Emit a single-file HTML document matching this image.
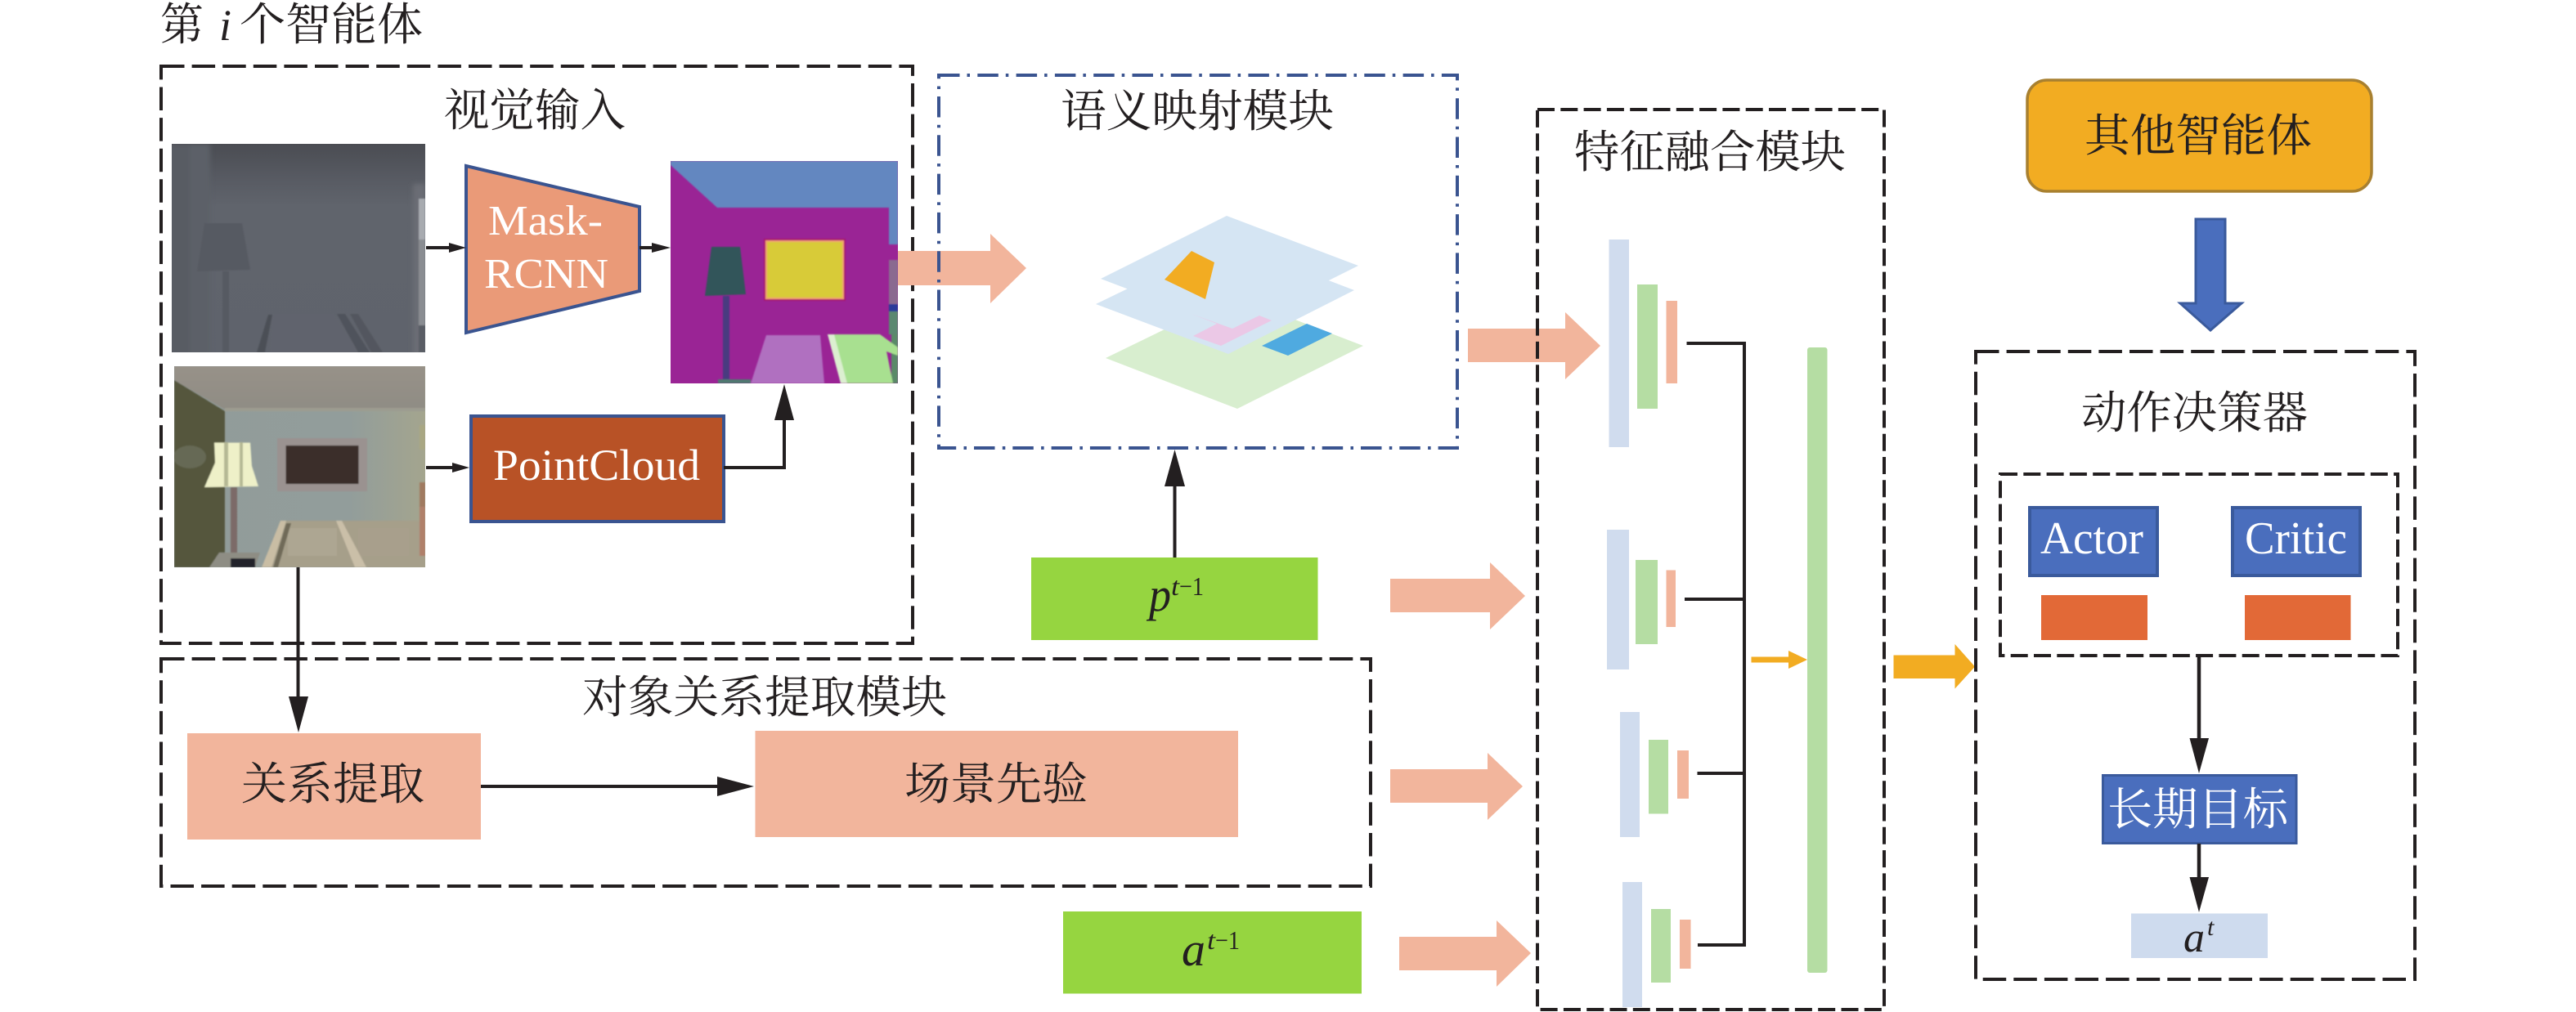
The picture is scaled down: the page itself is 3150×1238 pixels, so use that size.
<!DOCTYPE html>
<html><head><meta charset="utf-8"><style>
html,body{margin:0;padding:0;background:#fff}
svg{display:block}
text{font-family:"Liberation Serif","Noto Serif CJK SC",serif;fill:#231f20}
.c{font-family:"Noto Serif CJK SC","Liberation Serif",serif;font-size:55px}
.d{fill:none;stroke:#231f20;stroke-width:4;stroke-dasharray:28.5 9.1}
.f{fill:none;stroke:#231f20;stroke-width:4;stroke-dasharray:21 7.3}
.l{fill:none;stroke:#231f20;stroke-width:4}
.k{fill:#231f20}
.s{fill:#f2b59c}
.b1{fill:#d0dcee}.g1{fill:#b5dda3}
</style></head><body>
<svg xmlns="http://www.w3.org/2000/svg" width="3150" height="1238" viewBox="0 0 3150 1238">
<defs>
<filter id="bl" x="-5%" y="-5%" width="110%" height="110%"><feGaussianBlur stdDeviation="3"/></filter>
<filter id="bs" x="-5%" y="-5%" width="110%" height="110%"><feGaussianBlur stdDeviation="0.8"/></filter>
<linearGradient id="dg" x1="0" y1="0" x2="0" y2="1"><stop offset="0" stop-color="#4a4c52"/><stop offset=".16" stop-color="#575a62"/><stop offset=".3" stop-color="#60646c"/><stop offset="1" stop-color="#5f636c"/></linearGradient>
<linearGradient id="cg" x1="0" y1="0" x2="0" y2="1"><stop offset="0" stop-color="#979188"/><stop offset="1" stop-color="#8f8c84"/></linearGradient>
<linearGradient id="wg" x1="0" y1="0" x2="1" y2="0"><stop offset="0" stop-color="#919c9a"/><stop offset=".7" stop-color="#929d9b"/><stop offset="1" stop-color="#a4a58e"/></linearGradient>
<clipPath id="c1"><rect x="210" y="176" width="310" height="255"/></clipPath>
<clipPath id="c2"><rect x="213" y="448" width="307" height="246"/></clipPath>
<clipPath id="c3"><rect x="820" y="197" width="278" height="272"/></clipPath>
</defs>
<rect width="3150" height="1238" fill="#fff"/>

<text class="c" x="196" y="49" textLength="53" lengthAdjust="spacingAndGlyphs">第</text>
<text x="268" y="49" font-size="54" font-style="italic">i</text>
<text class="c" x="293" y="49" textLength="224" lengthAdjust="spacingAndGlyphs">个智能体</text>

<rect class="d" x="197" y="81" width="919" height="706"/>
<text class="c" x="543" y="154" textLength="222" lengthAdjust="spacingAndGlyphs">视觉输入</text>

<!-- depth image -->
<g clip-path="url(#c1)">
<rect x="210" y="176" width="310" height="255" fill="url(#dg)"/>
<g filter="url(#bl)">
<rect x="205" y="176" width="30" height="260" fill="#585c64"/>
<rect x="232" y="176" width="25" height="260" fill="#5c6068"/>
<rect x="505" y="225" width="15" height="210" fill="#6a6d75"/>
</g>
<g filter="url(#bs)">
<polygon points="250,273 296,273 306,330 241,332" fill="#565a62"/>
<rect x="272" y="332" width="8" height="99" fill="#565a62"/>
<polygon points="330,431 333,384 408,384 440,431" fill="#60646d"/>
<polygon points="314,431 328,385 333,385 324,431" fill="#4c4f57"/>
<polygon points="412,384 422,384 452,431 438,431" fill="#50535b"/>
<polygon points="428,384 438,384 468,431 454,431" fill="#53565e"/>
<rect x="512" y="243" width="8" height="50" fill="#a8abb0"/>
<rect x="512" y="293" width="8" height="105" fill="#8a8d92"/>
<rect x="512" y="398" width="8" height="33" fill="#5a5d65"/>
</g>
</g>

<!-- rgb image -->
<g clip-path="url(#c2)">
<rect x="213" y="448" width="307" height="246" fill="url(#wg)"/>
<g filter="url(#bs)">
<polygon points="213,448 520,448 520,499 275,501 213,465" fill="url(#cg)"/>
<rect x="275" y="499" width="245" height="4" fill="#9c9c90"/>
<polygon points="213,465 275,503 275,694 213,694" fill="#54563e"/>
<ellipse cx="232" cy="559" rx="20" ry="14" fill="#666954"/>
<rect x="339" y="536" width="110" height="65" fill="#9a9290"/>
<rect x="349.5" y="545" width="89" height="47" fill="#3a2e2a"/>
<polygon points="262,541.5 306,541.5 308,570 316,595 250,596 263,566" fill="#eef0c8"/>
<rect x="274" y="541" width="5" height="54" fill="#b5b894"/>
<rect x="293" y="541" width="4" height="54" fill="#b5b894"/>
<rect x="282" y="596" width="8" height="88" fill="#7c6b68"/>
<polygon points="320,694 343,637 512,637 520,650 520,694" fill="#a69f8a"/>
<rect x="352" y="646" width="60" height="34" fill="#ada692"/>
<rect x="438" y="646" width="62" height="34" fill="#a89f8c"/>
<polygon points="320,694 343,637 350,637 332,694" fill="#c9bda4"/>
<polygon points="411,637 418,637 448,694 434,694" fill="#cabfa8"/>
<polygon points="350,640 356,640 340,694 334,694" fill="#6f6a58"/>
<rect x="513" y="590" width="7" height="45" fill="#a07a60"/>
<rect x="513" y="620" width="7" height="60" fill="#b0806a"/>
<rect x="513" y="520" width="7" height="30" fill="#a9a783"/>
<polygon points="256,694 268,676 318,676 312,694" fill="#8e8d84"/>
<rect x="282" y="683" width="30" height="11" fill="#20222a"/>
</g>
</g>

<!-- segmentation -->
<g clip-path="url(#c3)">
<rect x="820" y="197" width="278" height="272" fill="#9a2495"/>
<g filter="url(#bs)">
<polygon points="820,197 1098,197 1098,299 1087,299 1087,254 877,254 820,202" fill="#6487c0"/>
<rect x="1087" y="318" width="11" height="54" fill="#8a6a90"/>
<rect x="1087" y="372" width="11" height="9" fill="#2a3a9a"/>
<rect x="1087" y="381" width="11" height="28" fill="#5a8870"/>
<rect x="1090" y="409" width="8" height="60" fill="#5a8a68"/>
<rect x="934" y="292" width="100" height="76" fill="#a81870"/>
<rect x="936" y="294" width="96" height="72" fill="#f2a070"/>
<rect x="938" y="296" width="92" height="68" fill="#d8cb38"/>
<polygon points="870,302 905,302 912,360 862,362" fill="#33555a"/>
<rect x="884" y="362" width="8" height="105" fill="#4a3a80"/>
<rect x="878" y="464" width="40" height="5" fill="#4f7a70"/>
<polygon points="937,410 1003,410 1008,469 918,469" fill="#b070c0"/>
<polygon points="1012,409 1076,409 1098,425 1098,435 1084,430 1092,469 1030,469" fill="#a8e090"/>
<polygon points="1012,409 1020,409 1036,469 1028,469" fill="#dcefd0"/>
</g>
</g>

<!-- trapezoid -->
<polygon points="570,203 782,253 782,356 570,407" fill="#ea9a78" stroke="#3a5490" stroke-width="4"/>
<text x="597" y="287" font-size="52" textLength="140" lengthAdjust="spacingAndGlyphs" style="fill:#fff">Mask-</text>
<text x="592" y="352" font-size="52" textLength="152" lengthAdjust="spacingAndGlyphs" style="fill:#fff">RCNN</text>

<!-- point cloud -->
<rect x="576" y="509" width="309" height="129" fill="#b85226" stroke="#3a5490" stroke-width="4"/>
<text x="603" y="587" font-size="54" textLength="253" lengthAdjust="spacingAndGlyphs" style="fill:#fff">PointCloud</text>

<!-- small arrows -->
<line class="l" x1="521" y1="303" x2="552" y2="303"/><polygon class="k" points="549,297 570,303 549,309"/>
<line class="l" x1="782" y1="303" x2="800" y2="303"/><polygon class="k" points="797,297 820,303 797,309"/>
<line class="l" x1="521" y1="572" x2="556" y2="572"/><polygon class="k" points="553,566 574,572 553,578"/>
<polyline class="l" points="885,572 959,572 959,510"/><polygon class="k" points="947,514 959,470 971,514"/>
<line class="l" x1="364.5" y1="694" x2="364.5" y2="856"/><polygon class="k" points="353,852 365,896 377,852"/>

<!-- object relation -->
<rect class="d" x="197" y="806" width="1479" height="278"/>
<text class="c" x="712" y="872" textLength="446" lengthAdjust="spacingAndGlyphs">对象关系提取模块</text>
<rect class="s" x="229" y="897" width="359" height="130"/>
<rect class="s" x="923.5" y="894" width="590.5" height="130"/>
<text class="c" x="295" y="978" textLength="224" lengthAdjust="spacingAndGlyphs">关系提取</text>
<text class="c" x="1106" y="978" textLength="224" lengthAdjust="spacingAndGlyphs">场景先验</text>
<line class="l" x1="588" y1="962" x2="880" y2="962"/><polygon class="k" points="877,950 922,962 877,974"/>

<!-- salmon arrow into semantic -->
<polygon class="s" points="1098,307 1211,307 1211,286 1255,328 1211,371 1211,349 1098,349"/>

<!-- semantic -->
<rect x="1148" y="92" width="634" height="456" fill="none" stroke="#3a5490" stroke-width="4" stroke-dasharray="25.5 9 3.5 9.3"/>
<text class="c" x="1297" y="155" textLength="334" lengthAdjust="spacingAndGlyphs">语义映射模块</text>
<polygon points="1352,438 1508,362 1667,423 1513,500" fill="#d8eecf"/>
<polygon points="1340,372 1499,295 1656,355 1502,433" fill="#d5e5f3"/>
<polygon points="1346,341 1500,264 1661,325 1507,402" fill="#d5e5f3"/>
<polygon points="1457,307 1485,321 1474,366 1424,342" fill="#f2ac22"/>
<polygon points="1457,384 1507,402 1540,386 1555,392 1493,423 1459,411 1488,396" fill="#ebc8e6"/>
<polygon points="1598,396 1629,408 1575,435 1543,423" fill="#4faae0"/>

<!-- p -->
<line class="l" x1="1436.5" y1="590" x2="1436.5" y2="682"/><polygon class="k" points="1424,595 1436.5,550 1449,595"/>
<rect x="1261" y="682" width="350.5" height="101" fill="#96d540"/>
<text x="1405" y="747" font-size="58" font-style="italic" textLength="27" lengthAdjust="spacingAndGlyphs">p</text>
<text x="1432" y="728" font-size="32" font-style="italic" textLength="10" lengthAdjust="spacingAndGlyphs">t</text>
<text x="1442" y="728" font-size="32" textLength="30" lengthAdjust="spacingAndGlyphs">−1</text>
<rect x="1300" y="1115" width="365" height="100.5" fill="#96d540"/>
<text x="1445" y="1181" font-size="58" font-style="italic" textLength="29" lengthAdjust="spacingAndGlyphs">a</text>
<text x="1476" y="1161" font-size="32" font-style="italic" textLength="10" lengthAdjust="spacingAndGlyphs">t</text>
<text x="1486" y="1161" font-size="32" textLength="30" lengthAdjust="spacingAndGlyphs">−1</text>

<!-- feature -->
<polygon class="s" points="1795,402 1914,402 1914,382 1957,423 1914,464 1914,443 1795,443"/>
<rect class="f" x="1880" y="134" width="424" height="1101"/>
<text class="c" x="1925" y="205" textLength="332" lengthAdjust="spacingAndGlyphs">特征融合模块</text>
<polygon class="s" points="1700,708 1822,708 1822,688 1865,729 1822,770 1822,749 1700,749"/>
<polygon class="s" points="1700,941 1819,941 1819,921 1862,962 1819,1003 1819,982 1700,982"/>
<polygon class="s" points="1711,1146 1830,1146 1830,1126 1872,1166 1830,1207 1830,1187 1711,1187"/>

<rect class="b1" x="1967.5" y="293" width="24.5" height="254"/><rect class="g1" x="2002" y="348" width="25" height="152"/><rect class="s" x="2037.5" y="368" width="13.5" height="101"/>
<rect class="b1" x="1965" y="648" width="27" height="171"/><rect class="g1" x="2000" y="685" width="27" height="103"/><rect class="s" x="2037.5" y="697.5" width="11.5" height="69.5"/>
<rect class="b1" x="1981" y="871" width="24" height="153"/><rect class="g1" x="2016" y="905" width="24" height="90.5"/><rect class="s" x="2051" y="918" width="14" height="59"/>
<rect class="b1" x="1984" y="1079" width="24" height="153"/><rect class="g1" x="2019" y="1112" width="24" height="90"/><rect class="s" x="2054" y="1125" width="13.5" height="60"/>

<polyline class="l" points="2062.5,420 2133,420 2133,1156 2076,1156"/>
<line class="l" x1="2060" y1="733" x2="2133" y2="733"/>
<line class="l" x1="2075.5" y1="946" x2="2133" y2="946"/>
<polygon points="2141.5,803.5 2187,803.5 2187,796 2210,807 2187,818 2187,810.5 2141.5,810.5" fill="#f2ac22"/>
<rect class="g1" x="2210" y="425" width="24.5" height="765" rx="3"/>

<polygon points="2315.5,801.5 2390.5,801.5 2390.5,788 2415,815.5 2390.5,842.5 2390.5,830 2315.5,830" fill="#f2ac22"/>

<!-- other agents -->
<rect x="2479" y="98" width="421" height="136" rx="24" fill="#f2ac22" stroke="#a88030" stroke-width="3.5"/>
<text class="c" x="2549" y="185" textLength="278" lengthAdjust="spacingAndGlyphs">其他智能体</text>
<polygon points="2685,268 2721,268 2721,371 2741,371 2703,404 2666,371 2685,371" fill="#4a6ebd" stroke="#3a5a9c" stroke-width="3"/>

<!-- decision -->
<rect class="d" x="2416" y="430" width="537" height="768"/>
<text class="c" x="2545" y="524" textLength="277" lengthAdjust="spacingAndGlyphs">动作决策器</text>
<rect class="f" x="2446" y="580" width="486" height="222"/>
<rect x="2482" y="621" width="156" height="83" fill="#4a6ebd" stroke="#3a5a9c" stroke-width="4"/>
<rect x="2730" y="621" width="156" height="83" fill="#4a6ebd" stroke="#3a5a9c" stroke-width="4"/>
<text x="2495" y="677" font-size="56" textLength="126" lengthAdjust="spacingAndGlyphs" style="fill:#fff">Actor</text>
<text x="2745" y="677" font-size="56" textLength="125" lengthAdjust="spacingAndGlyphs" style="fill:#fff">Critic</text>
<rect x="2496" y="728" width="130" height="55" fill="#e26937"/>
<rect x="2745" y="728" width="129.5" height="55" fill="#e26937"/>
<line x1="2689" y1="802" x2="2689" y2="908" stroke="#231f20" stroke-width="4.5"/><polygon class="k" points="2677.5,903 2689,946 2701,903"/>
<rect x="2571.5" y="948.5" width="236.5" height="83" fill="#4a6ebd" stroke="#3a5a9c" stroke-width="3"/>
<text class="c" x="2577" y="1009" textLength="221" lengthAdjust="spacingAndGlyphs" style="fill:#fff">长期目标</text>
<line x1="2689" y1="1032" x2="2689" y2="1078" stroke="#231f20" stroke-width="4.5"/><polygon class="k" points="2677.5,1073 2689,1116 2701,1073"/>
<rect x="2606" y="1117.5" width="167" height="54.5" fill="#cedbee"/>
<text x="2670" y="1164" font-size="52" font-style="italic" textLength="26" lengthAdjust="spacingAndGlyphs">a</text>
<text x="2699" y="1144" font-size="30" font-style="italic">t</text>
</svg>
</body></html>
